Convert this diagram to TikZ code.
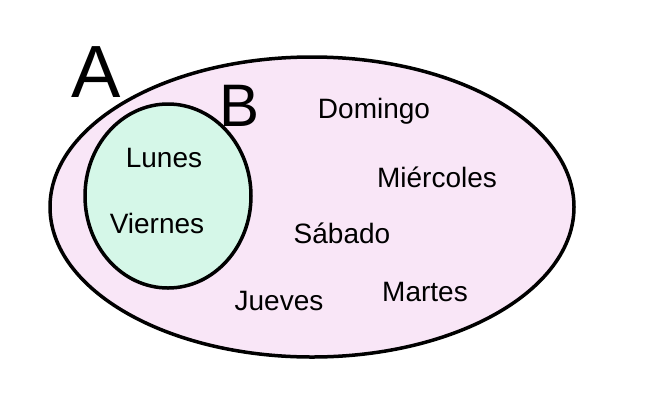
\documentclass[tikz,border=0pt]{standalone}
\usepackage{fontspec}
\setmainfont{Liberation Sans}
\definecolor{setApink}{rgb}{0.976, 0.902, 0.969}
\definecolor{setBmint}{rgb}{0.835, 0.969, 0.910}
\tikzset{
  setline/.style={draw=black, line width=3.5pt},
  dayname/.style={font=\fontsize{28}{30}\selectfont, inner sep=0pt},
  setname/.style={font=\fontsize{74}{76}\selectfont, inner sep=0pt}
}
\begin{document}
\begin{tikzpicture}[x=1pt, y=-1pt]
\useasboundingbox (0,0) rectangle (650,400);
% conjunto A
\draw[setline, fill=setApink] (312,207) ellipse [x radius=262, y radius=150];
% conjunto B
\draw[setline, fill=setBmint] (168,196) ellipse [x radius=83, y radius=92];
\node[setname] (labA) at (96,72) {A};
\node[font=\fontsize{60}{62}\selectfont, inner sep=0pt] (labB) at (240,106) {B};
% dias
\node[dayname] (lunes) at (164,158) {Lunes};
\node[dayname] (viernes) at (157,223) {Viernes};
\node[dayname] (domingo) at (374,111) {Domingo};
\node[dayname] (miercoles) at (437,177) {Miércoles};
\node[dayname] (sabado) at (342,233) {Sábado};
\node[dayname] (jueves) at (279,301) {Jueves};
\node[dayname] (martes) at (425,292) {Martes};
\end{tikzpicture}
\end{document}
